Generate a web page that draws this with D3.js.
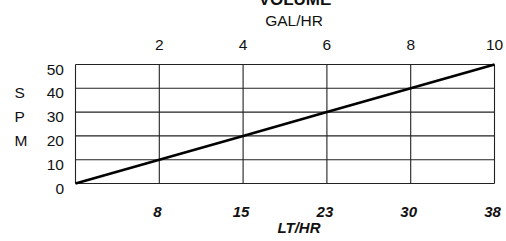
<!DOCTYPE html>
<html><head><meta charset="utf-8">
<script src="https://cdn.jsdelivr.net/npm/d3@7"></script>
<style>body{margin:0;background:#fff}svg{display:block}text{font-family:"Liberation Sans",Arial,sans-serif;fill:#111}</style>
</head><body>
<script>
const galValues = [0, 2, 4, 6, 8, 10];
const spmValues = [0, 10, 20, 30, 40, 50];
const galTicks = [2, 4, 6, 8, 10];
const spmTicks = [0, 10, 20, 30, 40, 50];
const ltTickLabels = ["8", "15", "23", "30", "38"];
const spmLetters = ["S", "P", "M"];
const title = "VOLUME";
const topAxisTitle = "GAL/HR";
const bottomAxisTitle = "LT/HR";

const W = 506, H = 241;
const svg = d3.select("body").append("svg").attr("width", W).attr("height", H);
const x = d3.scaleLinear().domain([0, 10]).range([75.5, 494.5]);
const y = d3.scaleLinear().domain([0, 50]).range([183.5, 64.5]);

// grid
const g = svg.append("g");
g.selectAll(".hg").data(spmTicks).join("line")
  .attr("x1", x(0)).attr("x2", x(10)).attr("y1", d => y(d)).attr("y2", d => y(d))
  .attr("stroke", "#222").attr("stroke-width", 1.1);
g.selectAll(".vg").data([0].concat(galTicks)).join("line")
  .attr("y1", y(0)).attr("y2", y(50)).attr("x1", d => x(d)).attr("x2", d => x(d))
  .attr("stroke", "#222").attr("stroke-width", 1.1);

// line
svg.append("path").datum(galValues.map((d, i) => [d, spmValues[i]]))
  .attr("d", d3.line().x(d => x(d[0])).y(d => y(d[1])))
  .attr("fill", "none").attr("stroke", "#000").attr("stroke-width", 2.6);

// top axis labels
svg.selectAll(".tl").data(galTicks).join("text")
  .attr("x", d => x(d)).attr("y", 50).attr("text-anchor", "middle")
  .attr("font-size", 15.5).text(d => d);
svg.append("text").attr("x", 294).attr("y", 26).attr("text-anchor", "middle")
  .attr("font-size", 15.5).text(topAxisTitle);
svg.append("text").attr("x", 295).attr("y", 5).attr("text-anchor", "middle")
  .attr("font-size", 17).attr("font-weight", "bold").text(title);

// left labels
svg.selectAll(".ll").data(spmTicks).join("text")
  .attr("x", 64).attr("y", d => y(d) + 10).attr("text-anchor", "end")
  .attr("font-size", 15.5).text(d => d);
svg.selectAll(".sl").data(spmLetters).join("text")
  .attr("x", 14.5).attr("y", (d, i) => y(40 - i * 10) + 10)
  .attr("font-size", 15.5).text(d => d);

// bottom labels
svg.selectAll(".bl").data(ltTickLabels).join("text")
  .attr("x", (d, i) => x(galTicks[i]) - 2).attr("y", 217).attr("text-anchor", "middle")
  .attr("font-size", 15).attr("font-weight", "bold").attr("font-style", "italic").text(d => d);
svg.append("text").attr("x", 299).attr("y", 233).attr("text-anchor", "middle")
  .attr("font-size", 15).attr("font-weight", "bold").attr("font-style", "italic").text(bottomAxisTitle);
</script>
</body></html>
